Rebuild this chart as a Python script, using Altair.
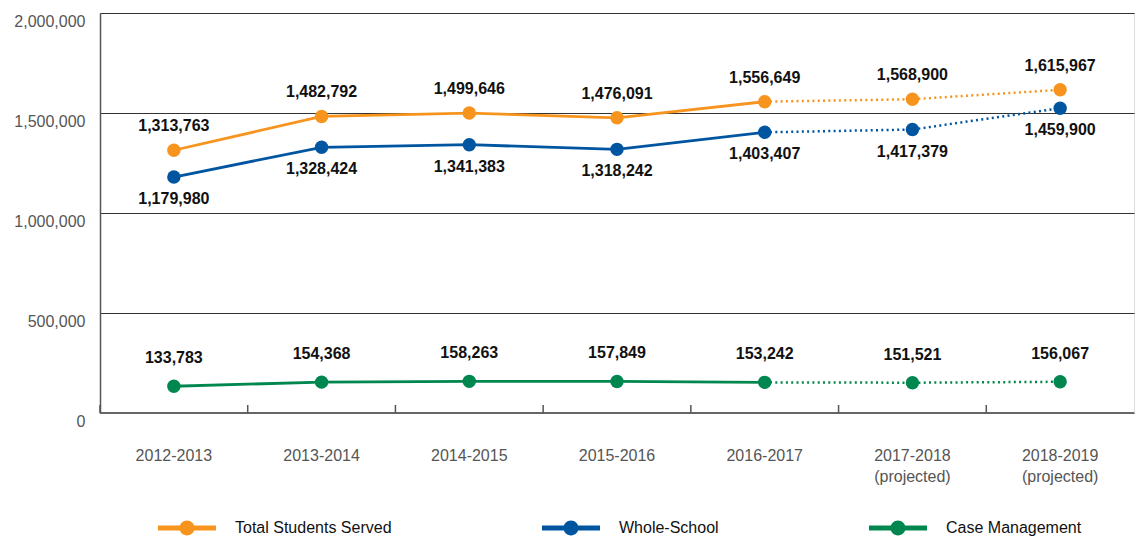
import altair as alt
import pandas as pd

years = ["2012-2013", "2013-2014", "2014-2015", "2015-2016", "2016-2017",
         "2017-2018 (projected)", "2018-2019 (projected)"]
series_names = ["Total Students Served", "Whole-School", "Case Management"]
total_vals = [1313763, 1482792, 1499646, 1476091, 1556649, 1568900, 1615967]
whole_vals = [1179980, 1328424, 1341383, 1318242, 1403407, 1417379, 1524000]
whole_labels = ["1,179,980", "1,328,424", "1,341,383", "1,318,242", "1,403,407", "1,417,379", "1,459,900"]
case_vals = [133783, 154368, 158263, 157849, 153242, 151521, 156067]
colors = ["#F7941E", "#0055A0", "#00874F"]
y_ticks = [0, 500000, 1000000, 1500000, 2000000]

rows = []
for s, vals, labs in [
    (series_names[0], total_vals, [f"{v:,}" for v in total_vals]),
    (series_names[1], whole_vals, whole_labels),
    (series_names[2], case_vals, [f"{v:,}" for v in case_vals]),
]:
    for i, (y, v, l) in enumerate(zip(years, vals, labs)):
        rows.append({"year": y, "series": s, "value": v, "label": l, "idx": i})
df = pd.DataFrame(rows)

FONT = "Liberation Sans"
W, H = 1034, 400

# bands run slightly past the right edge of the plot, as in the original (cut-off) figure
xscale = alt.Scale(type="band", domain=years, paddingInner=0,
                   paddingOuter=alt.ExprRef(expr="-0.0465"), align=0)
yscale = alt.Scale(domain=[0, 2000000])

x_axis = alt.Axis(title=None, labelAngle=0, ticks=False, labelPadding=34, bandPosition=0.5,
                  labelExpr="split(datum.label, ' ')", labelLineHeight=21,
                  labelFontSize=16, labelColor="#555555", labelFont=FONT,
                  labelBaseline="top", labelAlign="center",
                  domain=False, grid=False)
y_axis = alt.Axis(title=None, values=y_ticks, format=",d", tickSize=0,
                  labelPadding=15, labelFontSize=16, labelColor="#555555",
                  labelFont=FONT, labelBaseline="top",
                  grid=True, gridColor="#333333", gridWidth=1,
                  domainColor="#555555", domainWidth=1.5)

def X(bp=0.5):
    return alt.X("year:N", scale=xscale, bandPosition=bp, sort=years, axis=x_axis)

def Y():
    return alt.Y("value:Q", scale=yscale, axis=y_axis)

# legend glyph: a thick line with a dot in the middle (unit box scaled by sqrt(size)/2)
legend_path = ("M -4 -0.34 L 4 -0.34 L 4 0.34 L -4 0.34 Z "
               "M -1.03 0 A 1.03 1.03 0 1 1 1.03 0 A 1.03 1.03 0 1 1 -1.03 0 Z")

def C():
    return alt.Color("series:N", scale=alt.Scale(domain=series_names, range=colors),
                     sort=series_names,
                     legend=alt.Legend(title=None, orient="none", direction="horizontal",
                                       legendX=79, legendY=507, padding=0,
                                       symbolType=legend_path, symbolSize=210,
                                       symbolStrokeWidth=0, symbolOpacity=1,
                                       labelFontSize=16, labelFont=FONT, labelColor="#111111",
                                       labelOffset=40, columnPadding=150, labelLimit=400))

base = alt.Chart(df)

solid = base.transform_filter("datum.idx <= 4").mark_line(strokeWidth=2.8).encode(
    x=X(), y=Y(), color=C(), detail="series:N")

dotted = base.transform_filter("datum.idx >= 4").mark_line(
    strokeWidth=2.5, strokeDash=[2, 3.3]).encode(
    x=X(), y=Y(), color=C(), detail="series:N")

points = base.mark_circle(size=180, opacity=1).encode(x=X(), y=Y(), color=C())

def labels(name, dy):
    return base.transform_filter(alt.datum.series == name).mark_text(
        dy=dy, fontSize=16, fontWeight="bold", font=FONT, color="#111111").encode(
        x=X(), y=Y(), text="label:N")

lab_total = labels(series_names[0], -24)
lab_whole = labels(series_names[1], 22)
lab_case = labels(series_names[2], -28)

ticks_df = pd.DataFrame({"year": years})
ticks = alt.Chart(ticks_df).mark_rule(color="#555555", strokeWidth=1.5).encode(
    x=X(0), y=alt.value(H - 8), y2=alt.value(H))

baseline = alt.Chart(pd.DataFrame({"v": [0]})).mark_rule(
    color="#666666", strokeWidth=2).encode(y=alt.Y("v:Q", scale=yscale, axis=y_axis))

chart = alt.layer(points, solid, dotted, baseline, ticks, lab_total, lab_whole, lab_case).properties(
    width=W, height=H,
    padding={"left": 5, "top": 4, "right": 0, "bottom": 0},
).configure_view(stroke=None).configure(font=FONT)

chart.save("out.html", embed_options={"renderer": "svg", "actions": False})
